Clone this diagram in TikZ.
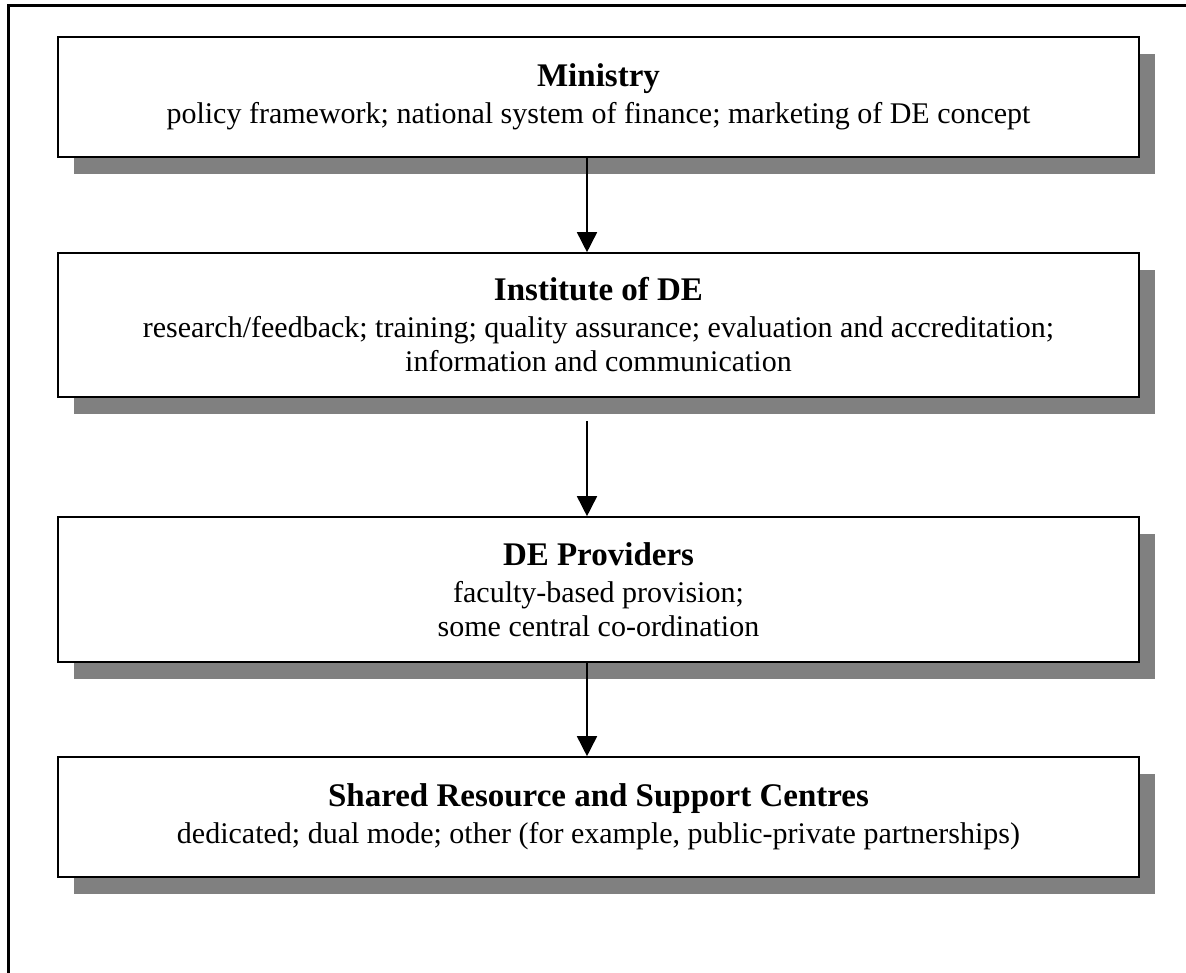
\documentclass[tikz,border=0pt]{standalone}
\usepackage{fontspec}
\setmainfont{Liberation Serif}
\usetikzlibrary{arrows.meta}
\usetikzlibrary{shadows}

\tikzset{
  levelbox/.style={draw, line width=1.6pt, fill=white, inner sep=0pt,
    minimum width=1081pt, align=center,
    font=\fontsize{30}{34}\selectfont,
    drop shadow={shadow xshift=16pt, shadow yshift=-17pt, fill=black!50, opacity=1}},
  flow/.style={line width=1.6pt, -{Triangle[width=20pt,length=20pt]}}
}
\newcommand{\boxhead}[1]{{\fontsize{33}{34}\selectfont\bfseries #1}}

\begin{document}
\begin{tikzpicture}[x=1pt,y=-1pt]
  \useasboundingbox (0,0) rectangle (1186,973);
  \draw[line width=3pt] (8,990) -- (8,6) -- (1200,6);

  \node[levelbox, minimum height=120pt] (ministry) at (598.5,97)
    {\boxhead{Ministry}\\[3pt]
     policy framework; national system of finance; marketing of DE concept};
  \node[levelbox, minimum height=144pt] (institute) at (598.5,325)
    {\boxhead{Institute of DE}\\[3pt]
     research/feedback; training; quality assurance; evaluation and accreditation;\\
     information and communication};
  \node[levelbox, minimum height=145pt] (providers) at (598.5,589.5)
    {\boxhead{DE Providers}\\[3pt]
     faculty-based provision;\\
     some central co-ordination};
  \node[levelbox, minimum height=120pt] (centres) at (598.5,817)
    {\boxhead{Shared Resource and Support Centres}\\[3pt]
     dedicated; dual mode; other (for example, public-private partnerships)};

  % arrows between the levels
  \coordinate (gap) at ([xshift=-11.5pt,yshift=-23pt]institute.south);
  \draw[flow] ([xshift=-11.5pt]ministry.south) -- ([xshift=-11.5pt]institute.north);
  \draw[flow] (gap) -- (gap |- providers.north);
  \draw[flow] ([xshift=-11.5pt]providers.south) -- ([xshift=-11.5pt]centres.north);
\end{tikzpicture}
\end{document}
